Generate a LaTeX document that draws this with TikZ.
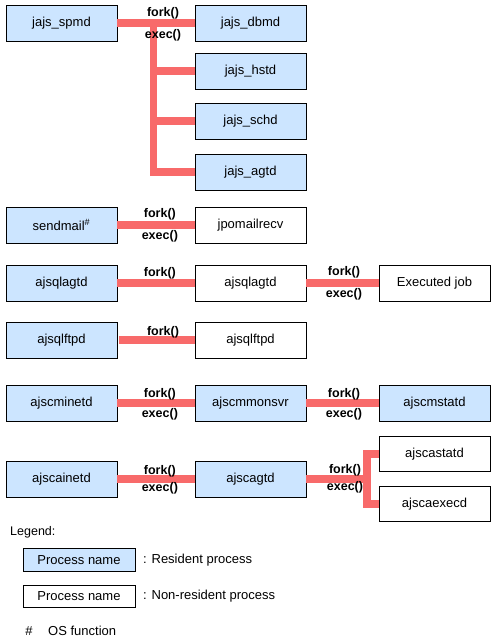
\documentclass[tikz,border=0pt]{standalone}
\usepackage{fontspec}
\setmainfont{Liberation Sans}
\usepackage{xcolor}
\usepackage{tikz}
\definecolor{resblue}{RGB}{204,229,255}
\definecolor{linkred}{RGB}{248,106,106}

\tikzset{
  res/.style={draw, line width=0.8pt, fill=resblue, minimum width=111pt, minimum height=36pt, inner sep=0pt, font=\fontsize{13}{15}\selectfont},
  nonres/.style={res, fill=white},
  link/.style={linkred, line width=7.5pt},
  fk/.style={text=black, font=\bfseries\fontsize{12.5}{14}\selectfont, inner sep=0pt},
}

\begin{document}
\begin{tikzpicture}[x=1pt, y=-1pt]
      \useasboundingbox (0,0) rectangle (493,644);

      % jajs_spmd and its children
      \node[res] (spmd) at (61.5, 23){jajs\_spmd};
      \node[res] (dbmd) at (250.5, 23){jajs\_dbmd};
      \node[res] (hstd) at (250.5, 71){jajs\_hstd};
      \node[res] (schd) at (250.5, 121){jajs\_schd};
      \node[res] (agtd) at (250.5, 172){jajs\_agtd};
      \coordinate (t1) at (153.5, 23);

      \draw[link] (spmd) -- (dbmd);
      \draw[link] (t1) |- (agtd);
      \draw[link] (t1 |- hstd) -- (hstd);
      \draw[link] (t1 |- schd) -- (schd);
      \node[fk] (f1) at (163, 13){fork()};
      \node[fk] (e1) at (163, 35){exec()};

      % sendmail
      \node[res] (smail) at (61.5, 225){sendmail\textsuperscript{\#}};
      \node[nonres] (jpo) at (250.5, 225){jpomailrecv};
      \draw[link] (smail) -- (jpo) node[fk, pos=0.55, yshift=11pt]{fork()} node[fk, pos=0.55, yshift=-11pt]{exec()};

      % ajsqlagtd
      \node[res] (qla) at (61.5, 283){ajsqlagtd};
      \node[nonres] (qlb) at (250.5, 283){ajsqlagtd};
      \node[nonres] (job) at (434.5, 283){Executed job};
      \draw[link] (qla) -- (qlb) node[fk, pos=0.55, yshift=10pt]{fork()};
      \draw[link] (qlb) -- (job) node[fk, pos=0.52, yshift=11pt]{fork()} node[fk, pos=0.52, yshift=-11pt]{exec()};

      % ajsqlftpd
      \node[res] (qfa) at (61.5, 340){ajsqlftpd};
      \node[nonres] (qfb) at (250.5, 340){ajsqlftpd};
      \draw[link] ([xshift=2pt]qfa.east) -- (qfb) node[fk, pos=0.58, yshift=8pt]{fork()};

      % ajscminetd
      \node[res] (cmi) at (61.5, 403){ajscminetd};
      \node[res] (cmm) at (250.5, 403){ajscmmonsvr};
      \node[res] (cms) at (434.5, 403){ajscmstatd};
      \draw[link] (cmi) -- (cmm) node[fk, pos=0.55, yshift=9pt]{fork()} node[fk, pos=0.55, yshift=-11pt]{exec()};
      \draw[link] (cmm) -- (cms) node[fk, pos=0.52, yshift=9pt]{fork()} node[fk, pos=0.52, yshift=-11pt]{exec()};

      % ajscainetd
      \node[res] (cai) at (61.5, 479){ajscainetd};
      \node[res] (cag) at (250.5, 479){ajscagtd};
      \node[nonres, minimum height=35pt] (cas) at (434.5, 454){ajscastatd};
      \node[nonres, minimum height=35pt] (cae) at (434.5, 504){ajscaexecd};
      \coordinate (t6) at (367, 479);
      \draw[link] (cai) -- (cag) node[fk, pos=0.55, yshift=8pt]{fork()} node[fk, pos=0.55, yshift=-9pt]{exec()};
      \draw[link] (cag) -- (t6);
      \draw[link] (t6) |- (cas);
      \draw[link] (t6) |- (cae);
      \node[fk] (f6) at (345, 470){fork()};
      \node[fk] (e6) at (345, 487){exec()};

      % legend
      \node[anchor=west, inner sep=0pt, font=\fontsize{12.5}{14}\selectfont] (leg) at (10, 532){Legend:};
      \node[res, minimum width=112pt, minimum height=23pt] (lres) at (79, 560){Process name};
      \node[anchor=west, inner sep=0pt, font=\fontsize{13}{15}\selectfont] (tres) at (143, 560){: Resident process};
      \node[nonres, minimum width=112pt, minimum height=22pt] (lnon) at (79, 596){Process name};
      \node[anchor=west, inner sep=0pt, font=\fontsize{13}{15}\selectfont] (tnon) at (143, 596){: Non-resident process};
      \node[inner sep=0pt, font=\fontsize{13}{15}\selectfont] (hash) at (29, 631){\#};
      \node[anchor=west, inner sep=0pt, font=\fontsize{13}{15}\selectfont] (osf) at (48, 631){OS function};
    \end{tikzpicture}
\end{document}
